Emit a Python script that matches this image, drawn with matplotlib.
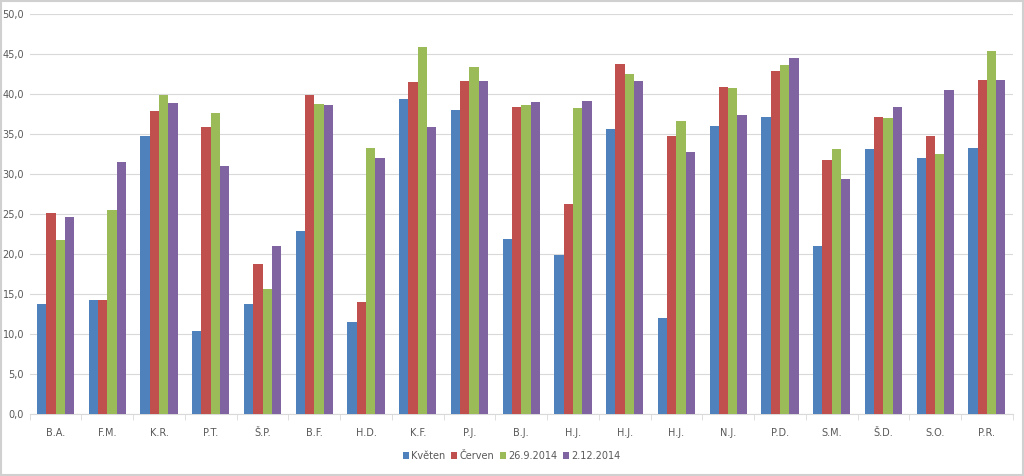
import matplotlib.pyplot as plt
import matplotlib.patches as patches
import numpy as np

plt.rcParams['font.family'] = ['Liberation Sans Narrow', 'DejaVu Sans']

names = ['B.A.', 'F.M.', 'K.R.', 'P.T.', 'Š.P.', 'B.F.', 'H.D.', 'K.F.', 'P.J.', 'B.J.',
         'H.J.', 'H.J.', 'H.J.', 'N.J.', 'P.D.', 'S.M.', 'Š.D.', 'S.O.', 'P.R.']
kveten = [13.7, 14.2, 34.7, 10.4, 13.8, 22.9, 11.5, 39.4, 38.0, 21.9,
          19.9, 35.6, 12.0, 36.0, 37.1, 21.0, 33.1, 32.0, 33.3]
cerven = [25.1, 14.2, 37.8, 35.8, 18.7, 39.8, 14.0, 41.5, 41.6, 38.4,
          26.3, 43.7, 34.7, 40.9, 42.9, 31.8, 37.1, 34.7, 41.7]
zari = [21.8, 25.5, 39.9, 37.6, 15.6, 38.7, 33.3, 45.8, 43.4, 38.6,
        38.2, 42.5, 36.6, 40.7, 43.6, 33.1, 37.0, 32.5, 45.3]
prosinec = [24.6, 31.5, 38.8, 31.0, 21.0, 38.6, 32.0, 35.9, 41.6, 39.0,
            39.1, 41.6, 32.7, 37.4, 44.5, 29.4, 38.4, 40.5, 41.7]

series = [kveten, cerven, zari, prosinec]
labels = ['Květen', 'Červen', '26.9.2014', '2.12.2014']
colors = ['#4F81BD', '#C0504D', '#9BBB59', '#8064A2']

fig = plt.figure(figsize=(10.24, 4.76), dpi=100)
ax = fig.add_axes([0.029, 0.130, 0.960, 0.841])

x = np.arange(len(names))
w = 0.18
for i, (s, c, l) in enumerate(zip(series, colors, labels)):
    ax.bar(x + (i - 1.5) * w, s, width=w, color=c, label=l, zorder=3)

ax.set_xlim(-0.5, len(names) - 0.5)
ax.set_ylim(0, 50)
ax.set_yticks(np.arange(0, 51, 5))
ax.set_yticklabels([('%.1f' % v).replace('.', ',') for v in np.arange(0, 51, 5)])
ax.set_xticks(x)
ax.set_xticklabels(names)
ax.set_xticks(np.arange(-0.5, len(names), 1), minor=True)
ax.tick_params(axis='x', which='major', length=0, pad=10)
ax.tick_params(axis='x', which='minor', length=4, color='#D9D9D9')
ax.tick_params(axis='y', length=0, pad=4)
ax.tick_params(labelsize=7, labelcolor='#595959')
ax.grid(axis='y', color='#D9D9D9', linewidth=0.8, zorder=0)
for sp in ['top', 'right', 'left']:
    ax.spines[sp].set_visible(False)
ax.spines['bottom'].set_color('#D9D9D9')

fig.legend(loc='center', bbox_to_anchor=(0.5, 0.042), ncol=4, frameon=False,
           fontsize=7, labelcolor='#595959', handlelength=0.6, handleheight=0.6,
           handletextpad=0.25, columnspacing=0.6)

fig.patches.append(patches.Rectangle((0.001, 0.002), 0.998, 0.996, transform=fig.transFigure,
                                     fill=False, edgecolor='#D0D0D0', linewidth=1.5))

fig.savefig('out.png', dpi=100)
